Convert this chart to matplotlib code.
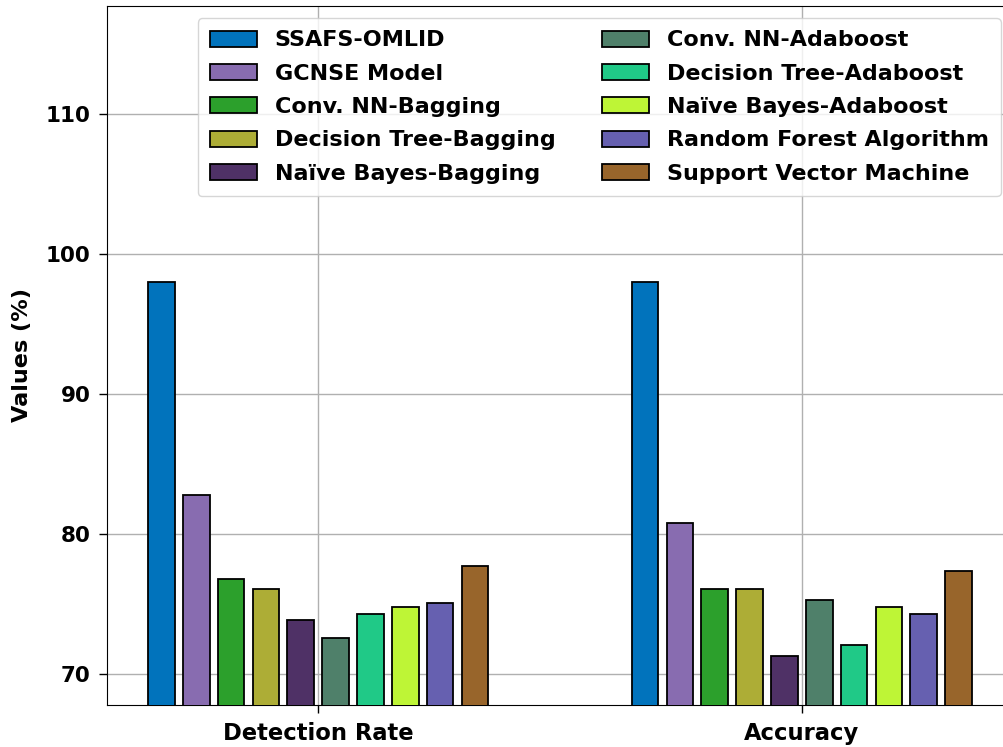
import numpy as np
import matplotlib
matplotlib.use("Agg")
import matplotlib.pyplot as plt

# Metrics and methods
metrics = ["Detection Rate", "Accuracy"]
methods = [
    "SSAFS-OMLID",
    "GCNSE Model",
    "Conv. NN-Bagging",
    "Decision Tree-Bagging",
    "Naïve Bayes-Bagging",
    "Conv. NN-Adaboost",
    "Decision Tree-Adaboost",
    "Naïve Bayes-Adaboost",
    "Random Forest Algorithm",
    "Support Vector Machine",
]
detection_rate = [98.0, 82.8, 76.8, 76.1, 73.9, 72.6, 74.3, 74.8, 75.1, 77.7]
accuracy = [98.0, 80.8, 76.1, 76.1, 71.3, 75.3, 72.1, 74.8, 74.3, 77.4]
colors = ["#0173BC", "#886CB0", "#2CA02C", "#ADAD36", "#4F3166",
          "#4F806A", "#20C987", "#BEF536", "#6660B0", "#98652B"]

plt.rcParams["font.family"] = ["DejaVu Sans"]
plt.rcParams["font.weight"] = "bold"

fig = plt.figure(figsize=(10.04, 7.47), dpi=100)
ax = fig.add_axes([107 / 1004, 42 / 747, 906 / 1004, 699 / 747])

x = np.arange(len(metrics))
pitch = 0.072
width = 0.055
for i, name in enumerate(methods):
    vals = [detection_rate[i], accuracy[i]]
    offset = (i - (len(methods) - 1) / 2) * pitch
    ax.bar(x + offset, vals, width, label=name, color=colors[i],
           edgecolor="black", linewidth=1.3, zorder=3)

ax.set_xticks(x)
ax.set_xticklabels(metrics, fontsize=16.3, fontweight="bold")
ax.set_ylim(67.8, 117.7)
ax.set_yticks([70, 80, 90, 100, 110])
ax.tick_params(axis="both", length=5.5, width=1.0, pad=6.5)
ax.tick_params(axis="y", labelsize=15.5)
for lbl in ax.get_yticklabels():
    lbl.set_fontweight("bold")
ax.set_ylabel("Values (%)", fontsize=16.1, fontweight="bold", labelpad=10)
ax.grid(True, color="#b0b0b0", linewidth=1.0, zorder=0)

ax.legend(loc="upper right", ncol=2, prop={"size": 16, "weight": "bold"},
          handlelength=2.1, handleheight=0.75, labelspacing=0.6,
          borderpad=0.55, columnspacing=2.1, borderaxespad=0.55)

fig.savefig("out.png", dpi=100)
